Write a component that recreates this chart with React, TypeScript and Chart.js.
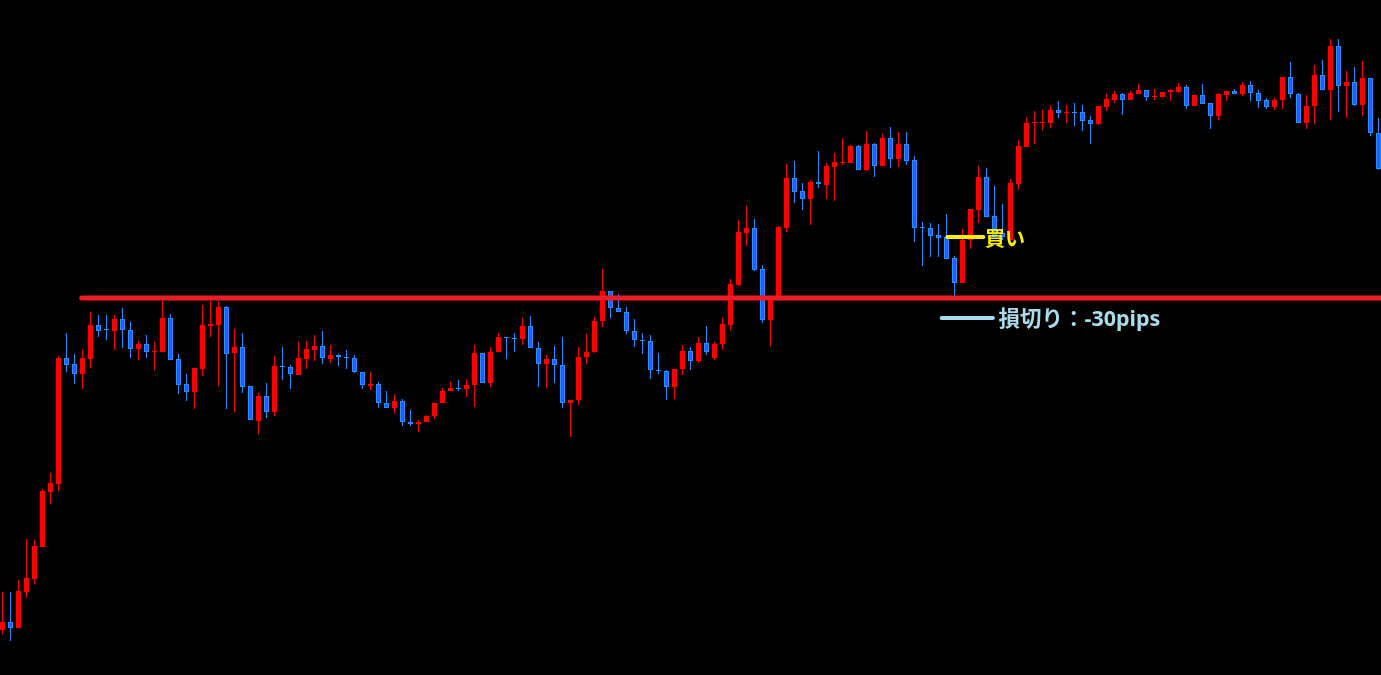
import React, { useEffect, useRef } from "react";
import { Chart, registerables } from "chart.js";

Chart.register(...registerables);

// OHLC prices (one entry per candle, oldest first)
const OPEN = [
  108.850,108.890,108.860,109.040,109.105,109.265,109.540,109.580,110.210,110.180,
  110.130,110.205,110.375,110.355,110.345,110.405,110.350,110.255,110.280,110.240,
  110.240,110.410,110.205,110.080,110.040,110.155,110.370,110.375,110.465,110.235,
  110.265,110.070,109.895,110.020,109.940,110.170,110.165,110.125,110.205,110.250,
  110.270,110.205,110.225,110.215,110.210,110.140,110.070,110.080,109.985,109.960,
  109.995,109.890,109.880,109.890,109.920,109.985,110.045,110.060,110.055,110.075,
  110.235,110.085,110.240,110.315,110.310,110.305,110.370,110.260,110.180,110.205,
  110.175,109.985,110.000,110.215,110.240,110.395,110.545,110.460,110.440,110.345,
  110.300,110.295,110.150,110.145,110.065,110.155,110.245,110.195,110.285,110.210,
  110.280,110.375,110.575,110.835,110.860,110.655,110.400,110.510,110.860,111.110,
  111.045,111.005,111.090,111.075,111.165,111.185,111.185,111.270,111.150,111.280,
  111.170,111.310,111.205,111.280,111.200,110.865,110.860,110.825,110.815,110.710,
  110.585,110.800,110.950,111.115,110.920,110.835,110.800,111.080,111.265,111.385,
  111.385,111.385,111.450,111.435,111.440,111.440,111.400,111.380,111.465,111.500,
  111.530,111.500,111.530,111.550,111.515,111.515,111.540,111.540,111.565,111.470,
  111.525,111.485,111.420,111.525,111.545,111.530,111.575,111.535,111.500,111.465,
  111.500,111.615,111.530,111.385,111.470,111.625,111.550,111.770,111.570,111.590,
  111.475,111.610,111.335,
];
const HIGH = [
  109.040,109.040,109.100,109.305,109.300,109.555,109.635,110.220,110.335,110.230,
  110.250,110.440,110.425,110.425,110.425,110.460,110.390,110.295,110.325,110.290,
  110.495,110.430,110.230,110.130,110.160,110.475,110.495,110.490,110.470,110.355,
  110.335,110.070,110.035,110.085,110.220,110.265,110.175,110.290,110.295,110.325,
  110.345,110.275,110.230,110.250,110.225,110.140,110.140,110.090,110.045,110.030,
  110.005,109.950,109.900,109.925,109.985,110.060,110.090,110.100,110.105,110.275,
  110.235,110.265,110.335,110.315,110.335,110.410,110.420,110.290,110.225,110.270,
  110.315,110.000,110.265,110.330,110.415,110.655,110.545,110.530,110.465,110.405,
  110.335,110.325,110.235,110.150,110.155,110.275,110.265,110.315,110.370,110.290,
  110.410,110.605,110.900,110.970,110.905,110.675,110.520,110.870,111.180,111.195,
  111.085,111.100,111.245,111.185,111.235,111.310,111.275,111.275,111.345,111.285,
  111.330,111.365,111.340,111.340,111.220,110.890,110.885,110.880,110.930,110.720,
  110.855,110.955,111.170,111.160,111.070,110.980,111.105,111.300,111.410,111.445,
  111.450,111.475,111.495,111.475,111.485,111.475,111.420,111.470,111.530,111.545,
  111.535,111.545,111.580,111.550,111.555,111.540,111.555,111.585,111.575,111.525,
  111.580,111.485,111.535,111.545,111.555,111.590,111.595,111.550,111.510,111.510,
  111.615,111.690,111.535,111.525,111.675,111.700,111.805,111.805,111.645,111.665,
  111.695,111.610,111.410,
];
const LOW = [
  108.830,108.795,108.860,109.010,109.080,109.265,109.480,109.545,110.140,110.080,
  110.055,110.160,110.315,110.300,110.250,110.260,110.210,110.200,110.210,110.150,
  110.240,110.200,110.030,109.995,109.955,110.120,110.315,110.070,109.955,109.940,
  110.035,109.900,109.830,109.910,109.920,110.100,110.055,110.125,110.155,110.195,
  110.180,110.185,110.170,110.155,110.135,110.055,110.050,109.960,109.960,109.930,
  109.870,109.870,109.840,109.890,109.905,109.985,110.045,110.045,110.015,109.965,
  110.085,110.065,110.240,110.205,110.240,110.275,110.260,110.065,110.060,110.085,
  109.960,109.815,109.975,110.180,110.235,110.365,110.410,110.440,110.330,110.265,
  110.230,110.105,110.130,110.000,110.005,110.125,110.150,110.185,110.225,110.200,
  110.250,110.350,110.570,110.770,110.645,110.385,110.270,110.510,110.840,110.985,
  110.950,110.875,111.060,111.005,110.995,111.175,111.185,111.150,111.145,111.115,
  111.170,111.160,111.165,111.175,110.790,110.670,110.715,110.715,110.705,110.520,
  110.585,110.755,110.885,110.915,110.815,110.800,110.800,111.050,111.265,111.280,
  111.350,111.360,111.410,111.385,111.370,111.345,111.280,111.375,111.445,111.485,
  111.425,111.500,111.530,111.495,111.500,111.515,111.495,111.535,111.455,111.470,
  111.480,111.355,111.400,111.495,111.530,111.520,111.495,111.460,111.455,111.450,
  111.455,111.510,111.385,111.355,111.380,111.550,111.400,111.440,111.410,111.470,
  111.420,111.320,111.150,
];
const CLOSE = [
  108.890,108.860,109.045,109.110,109.270,109.545,109.585,110.210,110.175,110.130,
  110.210,110.375,110.345,110.350,110.405,110.350,110.255,110.280,110.240,110.245,
  110.410,110.200,110.075,110.040,110.160,110.375,110.380,110.465,110.230,110.265,
  110.065,109.900,110.020,109.940,110.170,110.165,110.130,110.210,110.255,110.270,
  110.210,110.225,110.215,110.210,110.140,110.075,110.080,109.985,109.960,109.995,
  109.890,109.880,109.890,109.920,109.985,110.045,110.060,110.055,110.075,110.235,
  110.085,110.240,110.315,110.310,110.305,110.370,110.260,110.180,110.205,110.175,
  109.985,110.000,110.215,110.240,110.395,110.545,110.460,110.440,110.345,110.300,
  110.295,110.150,110.145,110.065,110.155,110.245,110.195,110.285,110.240,110.280,
  110.380,110.580,110.840,110.860,110.650,110.400,110.510,110.865,111.110,111.040,
  111.005,111.090,111.080,111.170,111.190,111.190,111.270,111.150,111.280,111.170,
  111.310,111.205,111.280,111.195,110.860,110.860,110.820,110.810,110.705,110.585,
  110.800,110.955,111.115,110.915,110.815,110.815,111.085,111.270,111.385,111.390,
  111.390,111.450,111.435,111.440,111.435,111.395,111.380,111.470,111.505,111.530,
  111.500,111.535,111.550,111.515,111.520,111.540,111.550,111.565,111.470,111.525,
  111.480,111.420,111.530,111.545,111.530,111.575,111.535,111.495,111.465,111.500,
  111.615,111.530,111.385,111.470,111.625,111.550,111.770,111.570,111.590,111.475,
  111.610,111.335,111.155,
];

// Trade levels
const STOP_LINE_PRICE = 110.51;     // red horizontal level
const ENTRY_PRICE = 110.815;        // 買い marker
const STOP_MARK_PRICE = 110.41;     // 損切り marker
const MARKER_LABELS = ["買い", "損切り：-30pips"];

const UP_BODY = "#FF0000";
const DOWN_BODY = "#3355FF";
const DOWN_EDGE = "#1E90FF";
const LEVEL_RED = "#EE1C25";
const ENTRY_YELLOW = "#FFF000";
const STOP_BLUE = "#A9DCEA";

export default function App() {
  const ref = useRef<HTMLCanvasElement | null>(null);

  useEffect(() => {
    document.body.style.margin = "0";
    document.body.style.background = "#000";
    const canvas = ref.current;
    if (!canvas) return;

    const isUp = OPEN.map((o, i) => CLOSE[i] >= o);
    const bodies = OPEN.map((o, i) => ({ x: i, y: [o, CLOSE[i]] }));
    const wicks = OPEN.map((_, i) => ({ x: i, y: [LOW[i], HIGH[i]] }));

    const xMin = -0.3125;
    const xMax = xMin + 1381 / 8;

    const labelPlugin = {
      id: "tradeLabels",
      afterDatasetsDraw(chart: any) {
        const { ctx, scales } = chart;
        const xs = scales.x;
        const ys = scales.y;
        ctx.save();
        ctx.textBaseline = "middle";
        ctx.textAlign = "left";
        ctx.font = 'bold 20px "Noto Sans CJK JP", "Noto Sans", sans-serif';
        ctx.fillStyle = ENTRY_YELLOW;
        ctx.fillText(MARKER_LABELS[0], xs.getPixelForValue(122.8), ys.getPixelForValue(ENTRY_PRICE) + 1);
        ctx.font = 'bold 21.5px "Noto Sans", "Noto Sans CJK JP", sans-serif';
        ctx.fillStyle = STOP_BLUE;
        ctx.fillText(MARKER_LABELS[1], xs.getPixelForValue(124.5), ys.getPixelForValue(STOP_MARK_PRICE) + 2);
        ctx.restore();
      },
    };

    const chart = new Chart(canvas, {
      type: "bar",
      data: {
        datasets: [
          {
            type: "line",
            data: [
              { x: 9.9, y: STOP_LINE_PRICE },
              { x: xMax + 3, y: STOP_LINE_PRICE },
            ],
            borderColor: LEVEL_RED,
            borderWidth: 5,
            borderCapStyle: "round",
            pointRadius: 0,
            order: 0,
            clip: false,
          } as any,
          {
            type: "line",
            data: [
              { x: 118.1, y: ENTRY_PRICE },
              { x: 122.6, y: ENTRY_PRICE },
            ],
            borderColor: ENTRY_YELLOW,
            borderWidth: 4,
            borderCapStyle: "round",
            pointRadius: 0,
            order: 0,
          } as any,
          {
            type: "line",
            data: [
              { x: 117.4, y: STOP_MARK_PRICE },
              { x: 123.8, y: STOP_MARK_PRICE },
            ],
            borderColor: STOP_BLUE,
            borderWidth: 4,
            borderCapStyle: "round",
            pointRadius: 0,
            order: 0,
          } as any,
          {
            type: "bar",
            data: bodies,
            backgroundColor: isUp.map((u) => (u ? UP_BODY : DOWN_BODY)),
            borderColor: isUp.map((u) => (u ? UP_BODY : DOWN_EDGE)),
            borderWidth: 1,
            borderSkipped: false,
            barThickness: 5,
            grouped: false,
            inflateAmount: 0,
            order: 1,
          } as any,
          {
            type: "bar",
            data: wicks,
            backgroundColor: isUp.map((u) => (u ? UP_BODY : DOWN_EDGE)),
            borderWidth: 0,
            barThickness: 1,
            grouped: false,
            inflateAmount: 0,
            order: 2,
          } as any,
        ],
      },
      options: {
        animation: false,
        responsive: false,
        devicePixelRatio: 1,
        layout: { padding: 0 },
        plugins: { legend: { display: false }, tooltip: { enabled: false } },
        scales: {
          x: {
            type: "linear",
            display: false,
            offset: false,
            grid: { offset: false },
            bounds: "data",
            min: xMin,
            max: xMax,
          },
          y: { type: "linear", display: false, min: 108.625, max: 112 },
        },
      } as any,
      plugins: [labelPlugin],
    });
    return () => chart.destroy();
  }, []);

  return (
    <canvas
      ref={ref}
      width={1381}
      height={675}
      style={{ display: "block", width: 1381, height: 675, background: "#000" }}
    />
  );
}
